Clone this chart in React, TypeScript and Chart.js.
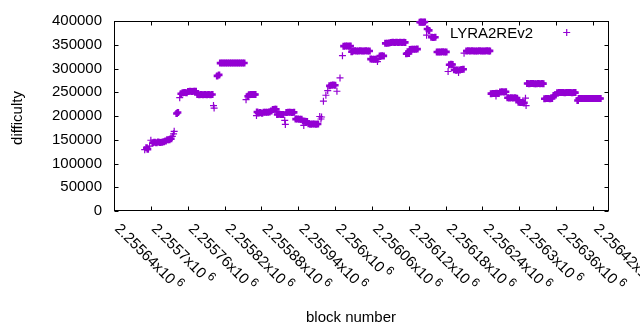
import { useEffect, useRef } from 'react';
import { Chart, registerables } from 'chart.js';

Chart.register(...registerables);

// ---- data (block number, difficulty) ----
const blockNumbers: number[] = [
  2255690, 2255693, 2255695, 2255698,
  2255700, 2255703, 2255706, 2255709, 2255712, 2255715, 2255718, 2255721, 2255724, 2255727, 2255730, 2255733, 2255735, 2255737, 2255738,
  2255742, 2255744,
  2255747, 2255749, 2255752, 2255755, 2255758, 2255761, 2255764, 2255767, 2255770, 2255773, 2255776, 2255779, 2255782, 2255785, 2255788, 2255791, 2255794, 2255797, 2255800,
  2255802, 2255803, 2255808, 2255811,
  2255813, 2255816, 2255819, 2255822, 2255825, 2255828, 2255831, 2255834, 2255837, 2255840, 2255843, 2255846, 2255849, 2255852,
  2255855, 2255858, 2255860, 2255863, 2255866, 2255868, 2255870,
  2255872, 2255873, 2255875, 2255878, 2255881,
  2255884, 2255887, 2255890, 2255893, 2255896, 2255899, 2255902, 2255904,
  2255906, 2255909, 2255912, 2255915, 2255918, 2255919,
  2255921, 2255924, 2255927, 2255930, 2255933,
  2255936, 2255939, 2255942, 2255945,
  2255948, 2255949, 2255951, 2255954,
  2255957, 2255960, 2255963, 2255966, 2255969, 2255972,
  2255975, 2255977, 2255978,
  2255981, 2255985, 2255988, 2255991, 2255994, 2255997, 2256000, 2256003, 2256008, 2256012,
  2256014, 2256017, 2256020, 2256023, 2256025, 2256027,
  2256029, 2256032, 2256035, 2256038, 2256041, 2256044, 2256047, 2256050, 2256053, 2256056,
  2256058, 2256061, 2256064, 2256067, 2256069, 2256070, 2256073, 2256076, 2256079,
  2256082, 2256085, 2256088, 2256091, 2256094, 2256097, 2256100, 2256103, 2256106, 2256109, 2256112, 2256114,
  2256116, 2256118, 2256120, 2256122, 2256125, 2256128, 2256131, 2256134,
  2256138, 2256140, 2256142, 2256144, 2256146,
  2256149, 2256150, 2256153, 2256157, 2256160, 2256163,
  2256166, 2256169, 2256172, 2256175, 2256178, 2256181,
  2256184, 2256186, 2256189, 2256191, 2256194, 2256197, 2256199, 2256201, 2256203, 2256206, 2256209,
  2256210, 2256214, 2256217, 2256220, 2256223, 2256226, 2256229, 2256232, 2256235, 2256238, 2256241, 2256244, 2256247, 2256250, 2256252,
  2256254, 2256257, 2256260, 2256262, 2256263, 2256266, 2256269, 2256272, 2256275, 2256278, 2256281, 2256284, 2256287, 2256290, 2256293, 2256296, 2256299, 2256302, 2256305, 2256308, 2256310, 2256311,
  2256313, 2256316, 2256319, 2256322, 2256325, 2256328, 2256331, 2256334, 2256337, 2256339,
  2256341, 2256344, 2256347, 2256350, 2256353, 2256356, 2256359, 2256362, 2256365, 2256368, 2256371, 2256374, 2256377, 2256380, 2256383, 2256386, 2256389, 2256391,
  2256395, 2256397, 2256400, 2256403, 2256406, 2256409, 2256412, 2256415, 2256418, 2256421, 2256424, 2256427, 2256430, 2256432,
];

const difficulty: number[] = [
  129200, 133300, 130200, 136500,
  149000, 143700, 144800, 143900, 145400, 144200, 144800, 145600, 147600, 149800, 150200, 152100, 157300, 162500, 167700,
  205200, 207300,
  238500, 246900, 249000, 249300, 248800, 251800, 252100, 251700, 252200, 251900, 245300, 245000, 245200, 244900, 245300, 245000, 245100, 244900, 245200,
  222000, 216700, 284400, 286500,
  311400, 311600, 311500, 311700, 311500, 311400, 311600, 311700, 311500, 311400, 311600, 311700, 311500, 311600,
  234400, 241700, 245000, 245300, 245500, 245100, 245400,
  201000, 208300, 206200, 207300, 205800,
  207800, 208100, 207700, 208400, 210400, 213500, 214300, 214000,
  203300, 203600, 203300, 203100, 191000, 182300,
  207300, 207800, 207900, 207400, 207700,
  193500, 193900, 193400, 193100,
  189300, 180200, 188700, 188300,
  183900, 182800, 182900, 183000, 182700, 183100,
  199000, 193700, 197900,
  231200, 243700, 253500, 263500, 264600, 265100, 264800, 252100, 280200, 327100,
  347100, 347400, 347600, 347000, 347300, 335400,
  337000, 337300, 337100, 336900, 337200, 337100, 336900, 337300, 337100, 337000,
  319800, 319400, 319300, 319600, 314600, 319400, 326300, 326800, 326500,
  353000, 353300, 353600, 354900, 355100, 354900, 355200, 355000, 355100, 354900, 355200, 355000,
  330900, 331800, 331500, 339800, 340400, 340700, 340500, 340800,
  397300, 397700, 397200, 397500, 397800,
  370200, 383300, 380200, 366000, 365500, 365800,
  334700, 334900, 334800, 335100, 334900, 335000,
  293700, 307800, 308700, 308300, 297500, 296400, 296600, 291700, 297100, 298000, 298400,
  332300, 336900, 337200, 337000, 337200, 336900, 337100, 336900, 337300, 337100, 336900, 337000, 337200, 337000, 337100,
  247100, 247600, 247300, 242300, 247800, 247500, 250500, 250800, 250600, 250900, 238300, 238000, 238400, 237900, 238200, 237600, 229000, 228300, 228500, 228000, 237500, 221900,
  268300, 268000, 268200, 268400, 268000, 268100, 268300, 267900, 268200, 268100,
  236400, 236900, 236700, 236500, 236800, 243300, 244000, 249200, 249500, 249300, 249500, 249200, 249600, 249300, 249500, 249200, 249400, 249300,
  232700, 236700, 237000, 236800, 237100, 236800, 236900, 236700, 237000, 236800, 237000, 236700, 236900, 236800,
];

const seriesName = 'LYRA2REv2';
const xTitle = 'block number';
const yTitle = 'difficulty';

const xMin = 2255640;
const xMax = 2256446;
const yMin = 0;
const yMax = 400000;
const yStep = 50000;

const xTickValues: number[] = [
  2255640, 2255700, 2255760, 2255820, 2255880, 2255940, 2256000,
  2256060, 2256120, 2256180, 2256240, 2256300, 2256360, 2256420,
];
const xTickMantissas: string[] = [
  '2.25564', '2.2557', '2.25576', '2.25582', '2.25588', '2.25594', '2.256',
  '2.25606', '2.25612', '2.25618', '2.25624', '2.2563', '2.25636', '2.25642',
];
const xTickExponent = '6';

const POINT_COLOR = '#9400d3';
const FONT = "'Liberation Sans', Arial, sans-serif";
const FONT_SIZE = 15;

// thicker strokes where crosses overlap into solid runs (emulates the dense raster look)
function crossWidth(i: number): number {
  const near = (j: number) =>
    j >= 0 && j < blockNumbers.length &&
    Math.abs(blockNumbers[j] - blockNumbers[i]) <= 3 &&
    Math.abs(difficulty[j] - difficulty[i]) <= 4000;
  return near(i - 1) || near(i + 1) ? 2.6 : 1.2;
}

const gnuplotDecor = {
  id: 'gnuplotDecor',
  beforeDatasetsDraw(chart: any) {
    const { ctx, chartArea: a, scales } = chart;
    const xs = scales.x;
    const ys = scales.y;
    const L = Math.round(a.left) + 0.5;
    const R = Math.round(a.right) - 0.5;
    const T = Math.round(a.top) + 0.5;
    const B = Math.round(a.bottom) - 0.5;
    ctx.save();
    ctx.strokeStyle = '#000';
    ctx.lineWidth = 1;
    ctx.strokeRect(L, T, R - L, B - T);
    ctx.beginPath();
    for (let v = yMin; v <= yMax; v += yStep) {
      const py = Math.round(ys.getPixelForValue(v)) + 0.5;
      ctx.moveTo(L, py); ctx.lineTo(L + 4, py);
      ctx.moveTo(R, py); ctx.lineTo(R - 4, py);
    }
    xTickValues.forEach((v) => {
      const px = Math.round(xs.getPixelForValue(v)) + 0.5;
      if (px > R + 0.1) return;
      ctx.moveTo(px, B); ctx.lineTo(px, B - 4);
      ctx.moveTo(px, T); ctx.lineTo(px, T + 4);
    });
    ctx.stroke();

    ctx.fillStyle = '#000';
    // rotated x tick labels
    xTickValues.forEach((v, i) => {
      const px = xs.getPixelForValue(v);
      ctx.save();
      ctx.translate(px, a.bottom + 18.5);
      ctx.rotate(Math.PI / 4);
      ctx.font = `${FONT_SIZE}px ${FONT}`;
      ctx.textAlign = 'left';
      ctx.textBaseline = 'alphabetic';
      const main = xTickMantissas[i] + 'x10';
      ctx.fillText(main, 0, 0);
      const w = ctx.measureText(main).width;
      ctx.font = `12px ${FONT}`;
      ctx.fillText(xTickExponent, w + 3, -6);
      ctx.restore();
    });

    // axis titles
    ctx.font = `${FONT_SIZE}px ${FONT}`;
    ctx.textAlign = 'center';
    ctx.textBaseline = 'alphabetic';
    ctx.fillText(xTitle, 351, 321.5);
    ctx.save();
    ctx.translate(22, (a.top + a.bottom) / 2 + 2);
    ctx.rotate(-Math.PI / 2);
    ctx.fillText(yTitle, 0, 0);
    ctx.restore();
    ctx.restore();
  },
  afterDatasetsDraw(chart: any) {
    const { ctx } = chart;
    ctx.save();
    ctx.font = `${FONT_SIZE}px ${FONT}`;
    ctx.fillStyle = '#000';
    ctx.textAlign = 'right';
    ctx.textBaseline = 'alphabetic';
    ctx.fillText(seriesName, 533, 37.5);
    ctx.strokeStyle = POINT_COLOR;
    ctx.lineWidth = 1.2;
    const cx = 566.7, cy = 32.5, r = 3.5;
    ctx.beginPath();
    ctx.moveTo(cx - r, cy); ctx.lineTo(cx + r, cy);
    ctx.moveTo(cx, cy - r); ctx.lineTo(cx, cy + r);
    ctx.stroke();
    ctx.restore();
  },
};

export default function App() {
  const canvasRef = useRef<HTMLCanvasElement | null>(null);

  useEffect(() => {
    const canvas = canvasRef.current;
    if (!canvas) return;
    const chart = new Chart(canvas, {
      type: 'scatter',
      data: {
        datasets: [
          {
            label: seriesName,
            data: blockNumbers.map((b, i) => ({ x: b, y: difficulty[i] })),
            pointStyle: 'cross',
            pointRadius: 3.5,
            pointBorderWidth: (c: any) => crossWidth(c.dataIndex),
            borderColor: POINT_COLOR,
            backgroundColor: POINT_COLOR,
            showLine: false,
            clip: false as any,
          },
        ],
      },
      options: {
        responsive: false,
        animation: false,
        events: [],
        layout: { padding: { left: 0, right: 31, top: 19, bottom: 119 } },
        plugins: {
          legend: { display: false },
          tooltip: { enabled: false },
          title: { display: false },
        },
        scales: {
          x: {
            type: 'linear',
            display: false,
            min: xMin,
            max: xMax,
          },
          y: {
            type: 'linear',
            min: yMin,
            max: yMax,
            grid: { display: false, drawTicks: false },
            border: { display: false },
            ticks: {
              stepSize: yStep,
              padding: 12,
              color: '#000',
              font: { family: FONT, size: FONT_SIZE },
              callback: (v: any) => String(v),
            },
            afterFit: (scale: any) => {
              scale.width = 114;
            },
          },
        },
      },
      plugins: [gnuplotDecor],
    });
    return () => chart.destroy();
  }, []);

  return (
    <div style={{ position: 'absolute', left: 0, top: 0, width: 640, height: 330, background: '#fff' }}>
      <canvas ref={canvasRef} width={640} height={330} style={{ display: 'block' }} />
    </div>
  );
}
